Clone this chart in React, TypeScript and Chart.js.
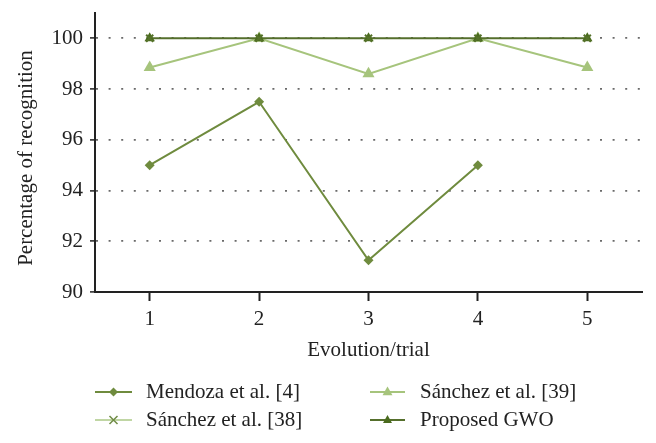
import React, { useEffect, useRef } from "react";
import { Chart, registerables } from "chart.js";

Chart.register(...registerables);

const categories = ["1", "2", "3", "4", "5"];
const mendoza = [95, 97.5, 91.25, 95, null];
const sanchez39 = [98.85, 100, 98.6, 100, 98.85];
const sanchez38 = [100, 100, 100, 100, 100];
const proposedGWO = [100, 100, 100, 100, 100];
const yTicks = [90, 92, 94, 96, 98, 100];
const xTitle = "Evolution/trial";
const yTitle = "Percentage of recognition";

const FONT = "'Liberation Serif', 'Times New Roman', serif";

type LegendItem = { label: string; line: string; marker: string; style: string; r: number };
const legendItems: LegendItem[] = [
  { label: "Mendoza et al. [4]", line: "#6f8b3e", marker: "#6f8b3e", style: "diamond", r: 4.5 },
  { label: "Sánchez et al. [39]", line: "#a6c47c", marker: "#a6c47c", style: "triangle", r: 5.5 },
  { label: "Sánchez et al. [38]", line: "#c0d6a4", marker: "#6f8b45", style: "cross", r: 4 },
  { label: "Proposed GWO", line: "#556f2c", marker: "#4a6b1e", style: "triangle", r: 5 },
];

function drawMarker(ctx: CanvasRenderingContext2D, style: string, x: number, y: number, r: number, color: string) {
  ctx.save();
  ctx.fillStyle = color;
  ctx.strokeStyle = color;
  ctx.lineWidth = 1.5;
  ctx.beginPath();
  if (style === "diamond") {
    ctx.moveTo(x, y - r);
    ctx.lineTo(x + r, y);
    ctx.lineTo(x, y + r);
    ctx.lineTo(x - r, y);
    ctx.closePath();
    ctx.fill();
  } else if (style === "triangle") {
    ctx.moveTo(x, y - r);
    ctx.lineTo(x + r * 0.9, y + r * 0.6);
    ctx.lineTo(x - r * 0.9, y + r * 0.6);
    ctx.closePath();
    ctx.fill();
  } else {
    ctx.moveTo(x - r, y - r);
    ctx.lineTo(x + r, y + r);
    ctx.moveTo(x + r, y - r);
    ctx.lineTo(x - r, y + r);
    ctx.stroke();
  }
  ctx.restore();
}

const customText = {
  id: "customText",
  afterDraw(chart: any) {
    const ctx = chart.ctx as CanvasRenderingContext2D;
    const area = chart.chartArea;
    ctx.save();
    ctx.fillStyle = "#222";
    ctx.font = `21px ${FONT}`;
    ctx.textAlign = "center";
    ctx.textBaseline = "middle";
    ctx.fillText(xTitle, (area.left + area.right) / 2, 350);
    ctx.save();
    ctx.translate(26, 158);
    ctx.rotate(-Math.PI / 2);
    ctx.fillText(yTitle, 0, 0);
    ctx.restore();

    const cols = [
      { lineStart: 95, lineEnd: 132, text: 146 },
      { lineStart: 370, lineEnd: 405, text: 420 },
    ];
    const rows = [392, 420];
    legendItems.forEach((it, i) => {
      const c = cols[i % 2];
      const y = rows[Math.floor(i / 2)];
      ctx.strokeStyle = it.line;
      ctx.lineWidth = 2;
      ctx.beginPath();
      ctx.moveTo(c.lineStart, y);
      ctx.lineTo(c.lineEnd, y);
      ctx.stroke();
      drawMarker(ctx, it.style, (c.lineStart + c.lineEnd) / 2, y, it.r, it.marker);
      ctx.fillStyle = "#222";
      ctx.textAlign = "left";
      ctx.textBaseline = "middle";
      ctx.fillText(it.label, c.text, y);
    });
    ctx.restore();
  },
};

export default function App() {
  const ref = useRef<HTMLCanvasElement | null>(null);
  useEffect(() => {
    if (!ref.current) return;
    const chart = new Chart(ref.current, {
      type: "line",
      data: {
        labels: categories,
        datasets: [
          {
            label: "Sánchez et al. [38]",
            data: sanchez38,
            showLine: false,
            borderColor: "#c0d6a4",
            backgroundColor: "#55722a",
            pointBackgroundColor: "#55722a",
            pointBorderColor: "#55722a",
            pointStyle: "crossRot",
            pointRadius: 5,
            pointBorderWidth: 2,
          },
          {
            label: "Proposed GWO",
            data: proposedGWO,
            borderColor: "#556f2c",
            borderWidth: 2,
            backgroundColor: "#4a6b1e",
            pointBackgroundColor: "#4a6b1e",
            pointBorderColor: "#4a6b1e",
            pointStyle: "triangle",
            pointRadius: 6,
            pointBorderWidth: 0,
          },
          {
            label: "Mendoza et al. [4]",
            data: mendoza,
            borderColor: "#6f8b3e",
            borderWidth: 2,
            backgroundColor: "#6f8b3e",
            pointBackgroundColor: "#6f8b3e",
            pointBorderColor: "#6f8b3e",
            pointStyle: "rectRot",
            pointRadius: 5,
            pointBorderWidth: 0,
            spanGaps: false,
          },
          {
            label: "Sánchez et al. [39]",
            data: sanchez39,
            borderColor: "#a6c47c",
            borderWidth: 2,
            backgroundColor: "#a6c47c",
            pointBackgroundColor: "#a6c47c",
            pointBorderColor: "#a6c47c",
            pointStyle: "triangle",
            pointRadius: 7,
            pointBorderWidth: 0,
          },
        ],
      },
      options: {
        animation: false,
        responsive: false,
        devicePixelRatio: 1,
        layout: { padding: { top: 13, right: 14, left: 0, bottom: 0 } },
        plugins: { legend: { display: false }, tooltip: { enabled: false } },
        elements: { line: { tension: 0 } },
        scales: {
          x: {
            type: "category",
            offset: true,
            afterFit: (s: any) => { s.height = 151; s.paddingLeft = 0; s.paddingRight = 0; },
            grid: {
              drawOnChartArea: false,
              drawTicks: true,
              tickLength: 9,
              tickColor: "#222",
              tickWidth: 2,
              offset: false,
            },
            border: { display: true, color: "#222", width: 2 },
            ticks: { color: "#222", font: { family: FONT, size: 21 }, padding: 6, maxRotation: 0 },
          },
          y: {
            min: 90,
            max: 101,
            afterFit: (s: any) => { s.width = 95; s.paddingTop = 0; s.paddingBottom = 0; },
            afterBuildTicks: (s: any) => { s.ticks = yTicks.map((v) => ({ value: v })); },
            grid: {
              color: (c: any) => (c.tick && c.tick.value === 90 ? "rgba(0,0,0,0)" : "#6a6a6a"),
              lineWidth: 1.8,
              drawTicks: true,
              tickLength: 5,
              tickColor: "#222",
              tickWidth: 1.5,
              tickBorderDash: [],
            },
            border: { display: true, color: "#222", width: 2, dash: [2, 10.6] },
            ticks: { color: "#222", font: { family: FONT, size: 21 }, padding: 7 },
          },
        },
      },
      plugins: [customText],
    } as any);
    return () => chart.destroy();
  }, []);
  return (
    <div style={{ position: "absolute", left: 0, top: 0, width: 656, height: 443, background: "#fff" }}>
      <canvas ref={ref} width={656} height={443} />
    </div>
  );
}
